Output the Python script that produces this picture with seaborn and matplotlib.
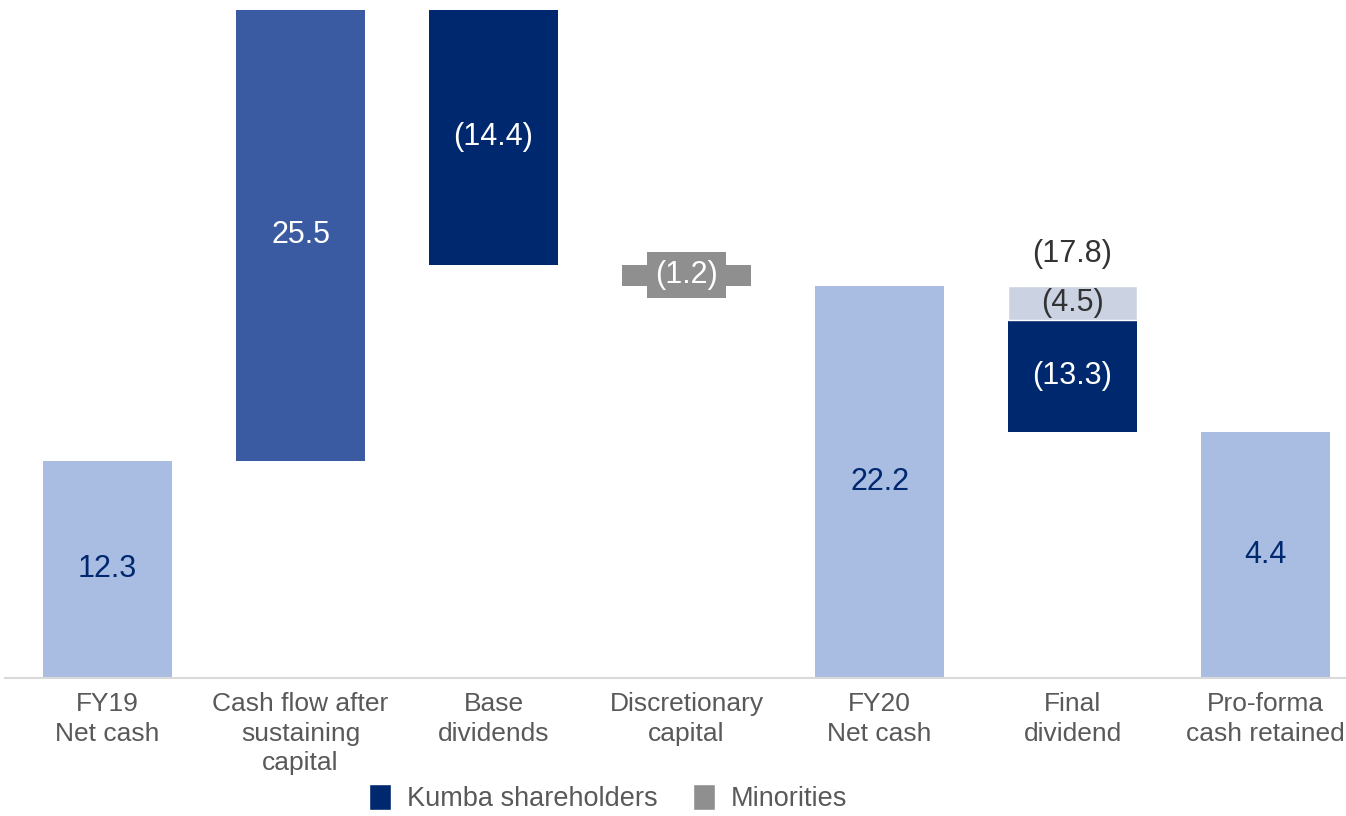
import pandas as pd
import matplotlib.pyplot as plt
from matplotlib.patches import Patch
import seaborn as sns

# Шаги водопада и подписи
steps = ["FY19\nNet cash", "Cash flow after\nsustaining\ncapital", "Base\ndividends",
         "Discretionary\ncapital", "FY20\nNet cash", "Final\ndividend",
         "Pro-forma\ncash retained"]
value_labels = ["12.3", "25.5", "(14.4)", "(1.2)", "22.2", "(13.3)", "4.4"]

# Начало и высота столбцов (как нарисовано на слайде)
bar_bottoms = [0, 12.3, 23.4, 22.2, 0, 13.9, 0]
bar_heights = [12.3, 25.5, 14.4, 1.2, 22.2, 6.35, 13.9]

# Доля миноритариев в финальном дивиденде
minority_bottom = 20.25
minority_height = 1.95
minority_label = "(4.5)"
final_total_label = "(17.8)"

light_blue = "#A9BCE2"
mid_blue = "#3A5BA1"
navy = "#00286F"
gray = "#8F8F8F"
light_gray = "#CBD3E3"

bar_colors = [light_blue, mid_blue, navy, gray, light_blue, navy, light_blue]
text_colors = [navy, "white", "white", "white", navy, "white", navy]

sns.set_style("white")
plt.rcParams["font.family"] = ["Liberation Sans", "DejaVu Sans"]

df = pd.DataFrame({"step": steps, "bottom": bar_bottoms, "height": bar_heights})

fig = plt.figure(figsize=(13.46, 8.16), dpi=100)
ax = fig.add_axes([0, 0.1691, 1, 0.8186])

sns.barplot(data=df, x="step", y="height", bottom=df["bottom"], order=steps,
            width=0.668, color=light_blue, saturation=1, ax=ax)
for patch, c in zip(ax.patches, bar_colors):
    patch.set_facecolor(c)
    patch.set_edgecolor("none")

# Миноритарии поверх финального дивиденда
minor_df = pd.DataFrame({"step": [steps[5]], "height": [minority_height]})
sns.barplot(data=minor_df, x="step", y="height", bottom=minority_bottom, order=steps,
            width=0.668, color=light_gray, saturation=1, ax=ax)

# Подписи значений
for i, (b, h, lab, tc) in enumerate(zip(bar_bottoms, bar_heights, value_labels, text_colors)):
    kw = {}
    if i == 3:
        kw["bbox"] = dict(boxstyle="square,pad=0.25", fc=gray, ec="none")
    ax.text(i, b + h / 2, lab, ha="center", va="center", fontsize=22, color=tc, **kw)

ax.text(5, minority_bottom + minority_height / 2, minority_label, ha="center",
        va="center", fontsize=22, color="#333333")
ax.text(5, minority_bottom + minority_height + 1.8, final_total_label, ha="center",
        va="center", fontsize=22, color="#333333")

ax.set_ylim(0, 37.8)
ax.set_xlim(-0.557, 6.417)
ax.set_xlabel("")
ax.set_ylabel("")
ax.set_yticks([])
ax.tick_params(axis="x", length=0, pad=10, labelsize=19, labelcolor="#595959")
for t in ax.get_xticklabels():
    t.set_linespacing(1.3)
for s in ["top", "left", "right"]:
    ax.spines[s].set_visible(False)
ax.spines["bottom"].set_color("#D9D9D9")
ax.spines["bottom"].set_linewidth(1.5)
ax.spines["bottom"].set_bounds(-0.53, 6.417)

handles = [Patch(facecolor=navy, label="Kumba shareholders"),
           Patch(facecolor=gray, label="Minorities")]
fig.legend(handles=handles, loc="center", bbox_to_anchor=(0.452, 0.022), ncol=2,
           frameon=False, fontsize=19.5, labelcolor="#595959", handlelength=0.8,
           handleheight=1.1, handletextpad=0.6, columnspacing=1.3, borderpad=0.1)

fig.savefig("out.png", dpi=100)
